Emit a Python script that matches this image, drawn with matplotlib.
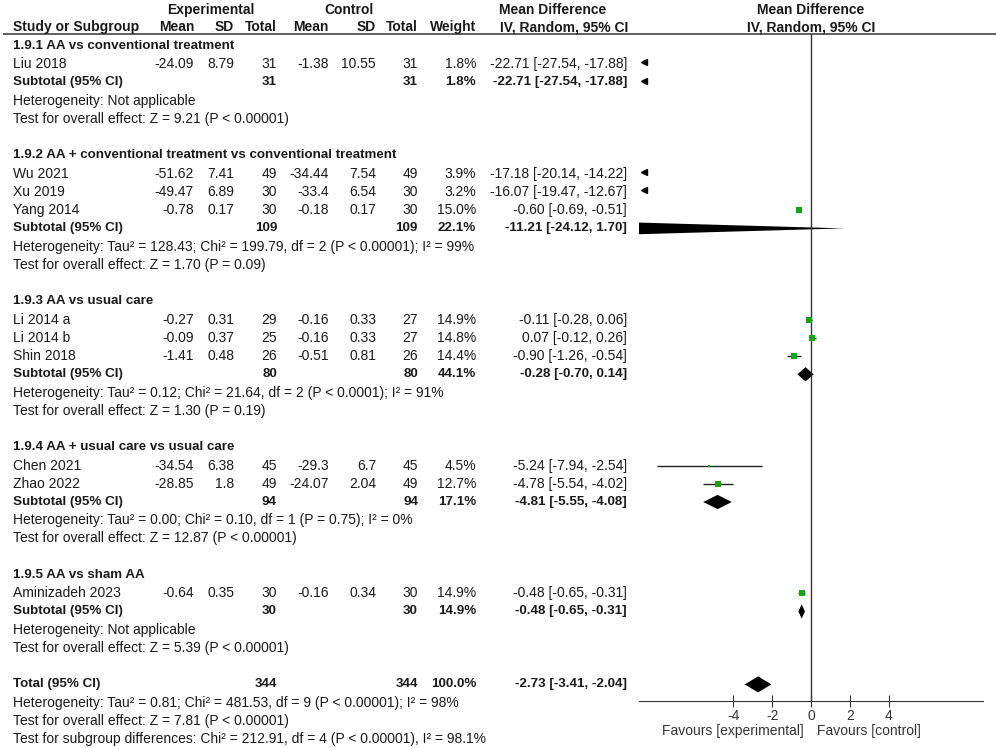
import matplotlib.pyplot as plt
from matplotlib.patches import Polygon

plt.rcParams['font.family'] = ['Liberation Sans', 'DejaVu Sans']
plt.rcParams['font.size'] = 10

# ---- data ----
group_titles = [
    "1.9.1 AA vs conventional treatment",
    "1.9.2 AA + conventional treatment vs conventional treatment",
    "1.9.3 AA vs usual care",
    "1.9.4 AA + usual care vs usual care",
    "1.9.5 AA vs sham AA",
]
studies = ["Liu 2018", "Wu 2021", "Xu 2019", "Yang 2014", "Li 2014 a", "Li 2014 b",
           "Shin 2018", "Chen 2021", "Zhao 2022", "Aminizadeh 2023"]
study_group = [0, 1, 1, 1, 2, 2, 2, 3, 3, 4]
exp_mean = [-24.09, -51.62, -49.47, -0.78, -0.27, -0.09, -1.41, -34.54, -28.85, -0.64]
exp_sd = [8.79, 7.41, 6.89, 0.17, 0.31, 0.37, 0.48, 6.38, 1.8, 0.35]
exp_n = [31, 49, 30, 30, 29, 25, 26, 45, 49, 30]
ctl_mean = [-1.38, -34.44, -33.4, -0.18, -0.16, -0.16, -0.51, -29.3, -24.07, -0.16]
ctl_sd = [10.55, 7.54, 6.54, 0.17, 0.33, 0.33, 0.81, 6.7, 2.04, 0.34]
ctl_n = [31, 49, 30, 30, 27, 27, 26, 45, 49, 30]
weight = [1.8, 3.9, 3.2, 15.0, 14.9, 14.8, 14.4, 4.5, 12.7, 14.9]
md = [-22.71, -17.18, -16.07, -0.60, -0.11, 0.07, -0.90, -5.24, -4.78, -0.48]
md_lo = [-27.54, -20.14, -19.47, -0.69, -0.28, -0.12, -1.26, -7.94, -5.54, -0.65]
md_hi = [-17.88, -14.22, -12.67, -0.51, 0.06, 0.26, -0.54, -2.54, -4.02, -0.31]

sub_exp_n = [31, 109, 80, 94, 30]
sub_ctl_n = [31, 109, 80, 94, 30]
sub_weight = [1.8, 22.1, 44.1, 17.1, 14.9]
sub_md = [-22.71, -11.21, -0.28, -4.81, -0.48]
sub_lo = [-27.54, -24.12, -0.70, -5.55, -0.65]
sub_hi = [-17.88, 1.70, 0.14, -4.08, -0.31]
sub_het = [
    "Heterogeneity: Not applicable",
    "Heterogeneity: Tau² = 128.43; Chi² = 199.79, df = 2 (P < 0.00001); I² = 99%",
    "Heterogeneity: Tau² = 0.12; Chi² = 21.64, df = 2 (P < 0.0001); I² = 91%",
    "Heterogeneity: Tau² = 0.00; Chi² = 0.10, df = 1 (P = 0.75); I² = 0%",
    "Heterogeneity: Not applicable",
]
sub_test = [
    "Test for overall effect: Z = 9.21 (P < 0.00001)",
    "Test for overall effect: Z = 1.70 (P = 0.09)",
    "Test for overall effect: Z = 1.30 (P = 0.19)",
    "Test for overall effect: Z = 12.87 (P < 0.00001)",
    "Test for overall effect: Z = 5.39 (P < 0.00001)",
]
total_n = [344, 344]
total_weight = 100.0
total_md, total_lo, total_hi = -2.73, -3.41, -2.04
total_notes = [
    "Heterogeneity: Tau² = 0.81; Chi² = 481.53, df = 9 (P < 0.00001); I² = 98%",
    "Test for overall effect: Z = 7.81 (P < 0.00001)",
    "Test for subgroup differences: Chi² = 212.91, df = 4 (P < 0.00001), I² = 98.1%",
]
ticks = [-4, -2, 0, 2, 4]

# ---- layout ----
W, H = 996, 748
row0_px, row_px = 46, 18.24
txt_col = '#1a1a1a'
green = '#17a317'
bold_size = 9.6
name_x = 13
col_right = [194, 234, 277, 329, 376, 418, 476, 627]
xmin, xmax = -8.86, 8.86
px0, px1 = 639, 983


def prow(y):
    return (y - row0_px) / row_px


fig = plt.figure(figsize=(W / 100, H / 100), dpi=100)
ax = fig.add_axes([0, 0, 1, 1])
ax.set_xlim(0, W)
ax.set_ylim(prow(H), prow(0))
ax.axis('off')

fx = fig.add_axes([px0 / W, 0, (px1 - px0) / W, 1], sharey=ax)
fx.set_xlim(xmin, xmax)
fx.patch.set_visible(False)
for s in ['top', 'left', 'right']:
    fx.spines[s].set_visible(False)
axis_row = prow(701)
fx.spines['bottom'].set_position(('data', axis_row))
fx.spines['bottom'].set_color('#333333')
fx.set_xticks(ticks)
fx.set_xticklabels([str(t) for t in ticks])
fx.tick_params(axis='x', direction='inout', length=8, pad=1.5, labelsize=10,
               colors='#333333')
fx.tick_params(axis='y', left=False, labelleft=False)

# header
hdr_line = prow(34)
ax.hlines(hdr_line, 3, W, color='#444444', lw=1.2)
r1, r2 = prow(10), prow(27)
ax.text(211, r1, "Experimental", ha='center', va='center', weight='bold', color=txt_col)
ax.text(349, r1, "Control", ha='center', va='center', weight='bold', color=txt_col)
ax.text(553, r1, "Mean Difference", ha='center', va='center', weight='bold', color=txt_col)
ax.text(811, r1, "Mean Difference", ha='center', va='center', weight='bold', color=txt_col)
ax.text(name_x, r2, "Study or Subgroup", ha='left', va='center', weight='bold', color=txt_col)
for lab, xr in zip(["Mean", "SD", "Total", "Mean", "SD", "Total", "Weight"], col_right):
    ax.text(xr, r2, lab, ha='right', va='center', weight='bold', color=txt_col)
ax.text(628, r2, "IV, Random, 95% CI", ha='right', va='center', weight='bold', color=txt_col)
ax.text(811, r2, "IV, Random, 95% CI", ha='center', va='center', weight='bold', color=txt_col)

fx.vlines(0, hdr_line, axis_row, color='#333333', lw=1)


def ci_text(m, lo, hi):
    return f"{m:.2f} [{lo:.2f}, {hi:.2f}]"


def btext(x, y, s, ha):
    ax.text(x, y, s, ha=ha, va='center', weight='bold', fontsize=bold_size, color=txt_col)


def draw_diamond(m, lo, hi, r, h=0.39):
    if hi < xmin:
        fx.plot(xmin + 0.25, r - 0.1, marker='<', ms=4, color='black')
        return
    fx.add_patch(Polygon([(lo, r), (m, r - h), (hi, r), (m, r + h)],
                         closed=True, color='black', lw=0))


r = 0
for g, title in enumerate(group_titles):
    btext(name_x, r, title, 'left')
    r += 1
    for i in [k for k, sg in enumerate(study_group) if sg == g]:
        vals = [str(exp_mean[i]), str(exp_sd[i]), str(exp_n[i]), str(ctl_mean[i]),
                str(ctl_sd[i]), str(ctl_n[i]), f"{weight[i]:.1f}%",
                ci_text(md[i], md_lo[i], md_hi[i])]
        ax.text(name_x, r, studies[i], ha='left', va='center', color=txt_col)
        for v, xr in zip(vals, col_right):
            ax.text(xr, r, v, ha='right', va='center', color=txt_col)
        if md_hi[i] < xmin:
            fx.plot(xmin + 0.25, r - 0.1, marker='<', ms=4, color='black')
        else:
            fx.hlines(r, md_lo[i], md_hi[i], color='#222222', lw=1)
            side = max(2.6, 0.4 * weight[i]) * 0.72
            fx.plot(md[i], r, marker='s', ms=side, color=green, mec=green, mew=0)
        r += 1
    btext(name_x, r, "Subtotal (95% CI)", 'left')
    for v, xr in zip([str(sub_exp_n[g]), str(sub_ctl_n[g]), f"{sub_weight[g]:.1f}%",
                      ci_text(sub_md[g], sub_lo[g], sub_hi[g])],
                     [col_right[2], col_right[5], col_right[6], col_right[7]]):
        btext(xr, r, v, 'right')
    draw_diamond(sub_md[g], sub_lo[g], sub_hi[g], r)
    r += 1
    ax.text(name_x, r, sub_het[g], ha='left', va='center', color=txt_col)
    r += 1
    ax.text(name_x, r, sub_test[g], ha='left', va='center', color=txt_col)
    r += 2

btext(name_x, r, "Total (95% CI)", 'left')
for v, xr in zip([str(total_n[0]), str(total_n[1]), f"{total_weight:.1f}%",
                  ci_text(total_md, total_lo, total_hi)],
                 [col_right[2], col_right[5], col_right[6], col_right[7]]):
    btext(xr, r, v, 'right')
draw_diamond(total_md, total_lo, total_hi, r, h=0.44)
for note in total_notes:
    r += 1
    ax.text(name_x, r, note, ha='left', va='center', color=txt_col)

fav_row = prow(731)
fx.text(-0.35, fav_row, "Favours [experimental]", ha='right', va='center', color='#333333')
fx.text(0.3, fav_row, "Favours [control]", ha='left', va='center', color='#333333')

fig.savefig("out.png", dpi=100)
